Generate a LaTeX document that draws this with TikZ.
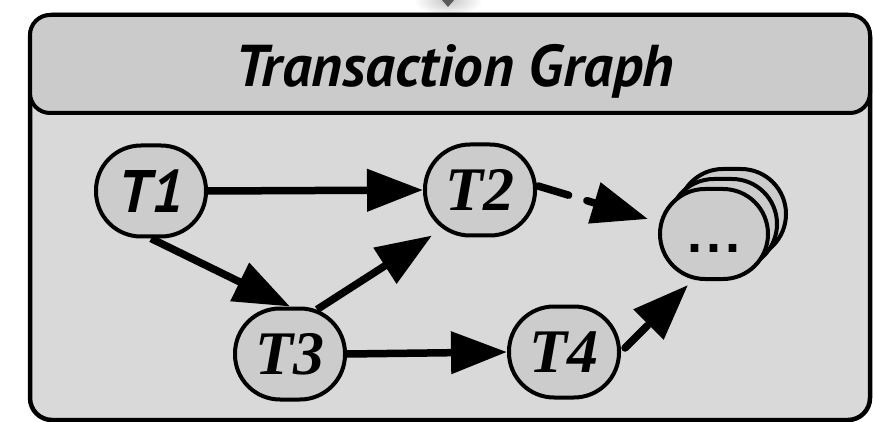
\documentclass[tikz,border=0pt]{standalone}
\usepackage{fontspec}
\setmainfont{Liberation Serif}
\newfontfamily\humanist{PT Sans}
\newfontfamily\plainsans{Liberation Sans}
\usetikzlibrary{arrows.meta,calc}

\definecolor{bodygray}{HTML}{D9D9D9}
\definecolor{bargray}{HTML}{CBCBCB}
\definecolor{nodegray}{HTML}{CCCCCC}

\begin{document}
\begin{tikzpicture}[x=1pt,y=-1pt,
  panel/.style={draw=black, line width=4.5pt, rounded corners=22pt},
  titlebar/.style={draw=black, line width=4pt, rounded corners=20pt, fill=bargray},
  txnode/.style={draw=black, line width=4pt, fill=nodegray,
    minimum width=110pt, minimum height=91pt, rounded corners=45pt, inner sep=0pt,
    font=\fontsize{62}{62}\selectfont\bfseries\itshape},
  stacknode/.style={txnode, minimum width=108pt, minimum height=90pt, rounded corners=45pt},
  flow/.style={line width=7.5pt, -{Triangle[length=56pt,width=41pt]}},
  dashflow/.style={flow, line cap=round, dash pattern=on 32pt off 19pt}
]
\useasboundingbox (0,0) rectangle (873,422);

% incoming arrow tip from above, with its soft glow
\begin{scope}
  \clip (380,0) rectangle (520,13);
  \shade[inner color=gray!45, outer color=white] (448,0) ellipse [x radius=34pt, y radius=16pt];
\end{scope}
\fill[black!65] (441,-1) -- (455,-1) -- (448,7) -- cycle;

% panel body and title bar
\path[panel, fill=bodygray] (30,15) rectangle (870,420);
\path[titlebar] (30,15) rectangle (870,113);
\node[anchor=base, font=\humanist\fontsize{59}{59}\selectfont\bfseries\itshape]
  (title) at (455,87) {Transaction Graph};

% transactions
\node[txnode, font=\humanist\fontsize{60}{60}\selectfont\bfseries\itshape] (t1) at (151,191) {T1};
\node[txnode] (t2) at (480,190) {T2};
\node[txnode] (t3) at (290,354) {T3};
\node[txnode] (t4) at (564,352) {T4};

% stack of further transactions
\node[stacknode] (dotsc) at (732,214) {};
\node[stacknode] (dotsb) at (723,224) {};
\node[stacknode, font=\plainsans\fontsize{54}{54}\selectfont\bfseries] (dots) at (714,234)
  {\smash{\raisebox{-18pt}{.\kern4pt.\kern4pt.}}};

% dependencies
\draw[flow] (t1.east) -- (t2.west);
\draw[flow] (t1.south) -- (t3.north);
\draw[flow] ($(t3.north)+(27,3)$) -- ($(t2.south)+(-48,-2)$);
\draw[flow] (t3.east) -- (t4.west);
\draw[dashflow] ($(t2.east)+(1,-4)$) -- ($(dots.west)+(-10,-15)$);
\draw[dashflow] ($(t4.east)+(4,-4)$) -- ($(dots.south)+(-26,4)$);
\end{tikzpicture}
\end{document}
